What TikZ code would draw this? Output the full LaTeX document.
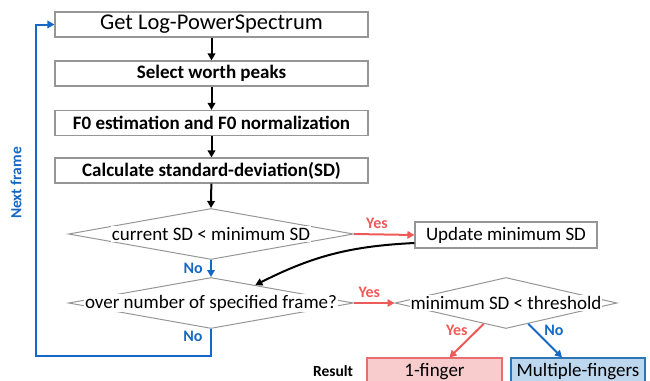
\documentclass[tikz,border=0pt]{standalone}
\usepackage{fontspec}
\setmainfont{Carlito}
\usetikzlibrary{arrows.meta,shapes.geometric,calc}

\definecolor{yesred}{RGB}{238,90,90}
\definecolor{noblue}{RGB}{22,104,196}
\definecolor{edgegray}{RGB}{150,150,150}
\definecolor{onefill}{RGB}{248,204,204}
\definecolor{oneline}{RGB}{232,110,110}
\definecolor{multifill}{RGB}{189,215,238}
\definecolor{multiline}{RGB}{46,117,182}

\begin{document}
\begin{tikzpicture}[
    x=1pt, y=-1pt,
    >={Triangle[length=7pt,width=7.5pt]},
    box/.style={draw=edgegray, line width=1.1pt, minimum width=313pt,
        minimum height=25pt, inner sep=0pt,
        font=\fontsize{19}{22}\selectfont},
    boldbox/.style={box, font=\fontsize{19}{22}\selectfont\bfseries},
    test/.style={diamond, draw=edgegray, line width=1pt, inner sep=0pt},
    testtext/.style={fill=white, inner sep=1pt,
        font=\fontsize{19}{22}\selectfont},
    arr/.style={->, line width=2pt},
    yesarr/.style={->, line width=2pt, yesred},
    noarr/.style={->, line width=2pt, noblue},
    yeslab/.style={yesred, font=\fontsize{16}{18}\selectfont\bfseries},
    nolab/.style={noblue, font=\fontsize{16}{18}\selectfont\bfseries},
]
\useasboundingbox (0,0) rectangle (650,380);
\clip (0,0) rectangle (650,380);

% Processing steps
\node[box, font=\fontsize{22.5}{24}\selectfont] (spec) at (211.5,24.5)
    {Get Log-PowerSpectrum};
\node[boldbox] (peaks) at (211.5,73.5) {Select worth peaks};
\node[boldbox] (f0) at (211.5,123) {F0 estimation and F0 normalization};
\node[boldbox] (sd) at (211.5,170.5) {Calculate standard-deviation(SD)};

% Decisions
\node[test, minimum width=285pt, minimum height=51pt] (cmp) at (211,234) {};
\node[testtext] (cmptext) at (cmp) {current SD < minimum SD};
\node[test, minimum width=285pt, minimum height=51pt] (frm) at (211,303) {};
\node[testtext] (frmtext) at (frm) {over number of specified frame?};
\node[test, minimum width=222pt, minimum height=51pt] (thr) at (506,303) {};
\node[testtext] (thrtext) at (thr) {minimum SD < threshold};

\node[box, minimum width=182pt, minimum height=26pt] (upd) at (506,235)
    {Update minimum SD};

% Results
\node[box, draw=oneline, fill=onefill, minimum width=135pt,
    minimum height=28pt] (one) at (434.5,372) {1-finger};
\node[box, draw=multiline, fill=multifill, minimum width=134pt,
    minimum height=28pt] (multi) at (578,372) {Multiple-fingers};
\node[font=\fontsize{15.5}{17}\selectfont\bfseries] (res) at (333,371) {Result};

% Main flow
\draw[arr] (spec) -- (peaks);
\draw[arr] (peaks) -- (f0);
\draw[arr] (f0) -- (sd);
\draw[arr] (sd) -- (cmp.north);

\draw[yesarr] (cmp.east) -- (upd.west)
    node[yeslab, pos=0.38, above=1pt] {Yes};
\draw[noarr] (cmp.south) -- (frm.north)
    node[nolab, midway, left=4pt] {No};
\draw[arr] ([yshift=-8pt]upd.west) to[bend right=12]
    ($(frm.north)!0.31!(frm.east)$);

\draw[yesarr] (frm.east) -- (thr.west)
    node[yeslab, pos=0.38, above=1pt] {Yes};
\draw[noarr] (frm.south) -- ++(0,27) -| ([xshift=-18pt]spec.west) -- (spec.west);
\node[nolab] (nolbl) at ([xshift=-18pt,yshift=-7pt]frm.south) {No};
\node[nolab, font=\fontsize{15.5}{17}\selectfont\bfseries, rotate=90]
    (next) at (16,183) {Next frame};

\draw[yesarr] ($(thr.south)!0.2!(thr.west)$) -- ([xshift=15pt]one.north)
    node[yeslab, pos=0.2, left=5pt] {Yes};
\draw[noarr] ($(thr.south)!0.2!(thr.east)$) -- ([xshift=-16pt]multi.north)
    node[nolab, pos=0.2, right=5pt] {No};
\end{tikzpicture}
\end{document}
